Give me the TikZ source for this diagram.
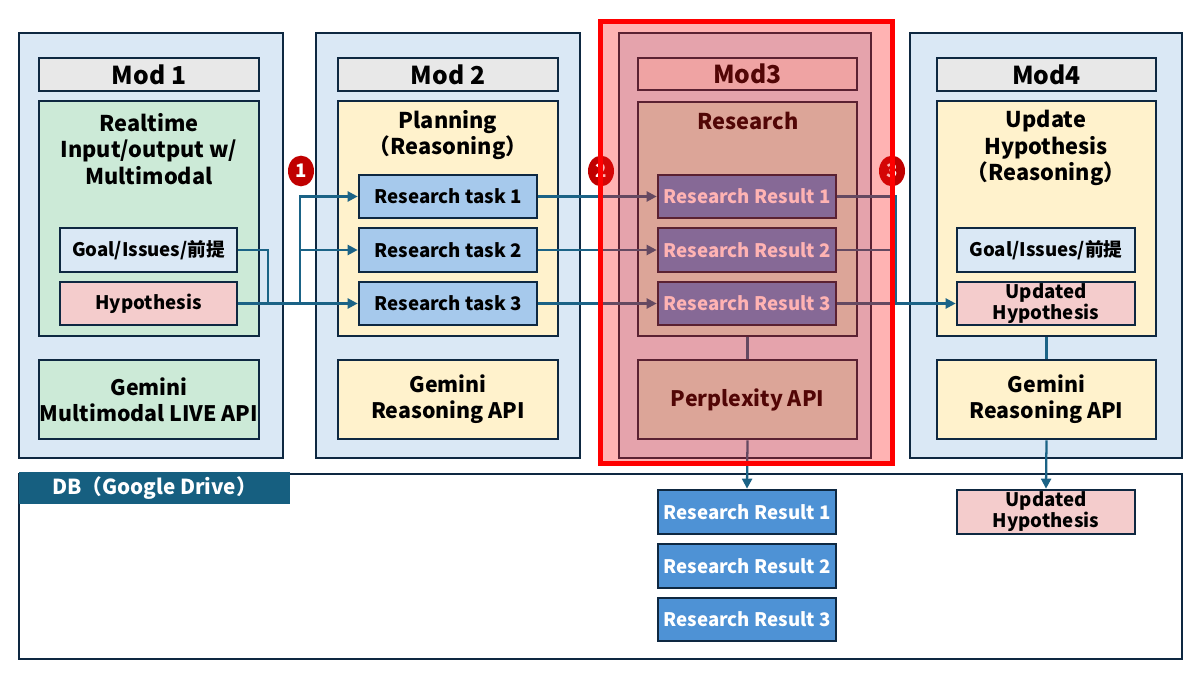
\documentclass[tikz,border=0pt]{standalone}
\usepackage{fontspec}
\setmainfont{Noto Sans CJK JP}
\usetikzlibrary{arrows.meta,shapes.geometric}
\definecolor{navy}{HTML}{0E2841}
\definecolor{outerblue}{HTML}{DAE8F5}
\definecolor{hdrgray}{HTML}{E8E8E8}
\definecolor{mgreen}{HTML}{CCEAD7}
\definecolor{myellow}{HTML}{FFF2CC}
\definecolor{taskblue}{HTML}{A6C9EC}
\definecolor{hpink}{HTML}{F4CCCC}
\definecolor{lnteal}{HTML}{1B6386}
\definecolor{dbteal}{HTML}{165F80}
\definecolor{resblue}{HTML}{4E92D5}
\definecolor{circred}{HTML}{C00000}
\definecolor{ovred}{RGB}{255,20,20}
% \bx{name}{style}{x1}{y1}{x2}{y2}{text}
\newcommand\bx[7]{\node[#2, minimum width={(#5-#3)*0.75pt}, minimum height={(#6-#4)*0.75pt}]
  (#1) at ({(#3+#5)/2},{(#4+#6)/2}) {#7};}
\begin{document}
\begin{tikzpicture}[x=0.75pt,y=-0.75pt,
  box/.style={draw=navy, line width=2pt, inner sep=0pt, align=center, text=black,
    font=\bfseries\fontsize{14}{16}\selectfont},
  modbox/.style={box, fill=outerblue},
  hdr/.style={box, fill=hdrgray, font=\bfseries\fontsize{18.5}{22}\selectfont},
  titletext/.style={align=center, text=black, inner sep=0pt, font=\bfseries\fontsize{16.3}{20}\selectfont},
  bigtext/.style={font=\bfseries\fontsize{16}{19.5}\selectfont},
  tight/.style={font=\bfseries\fontsize{14}{15.75}\selectfont},
  conn/.style={draw=lnteal, line width=1.7pt},
  arr/.style={conn, -{Triangle[length=7.5pt,width=7.5pt]}},
  badge/.style={ellipse, fill=circred, minimum width=19.5pt, minimum height=23pt, inner sep=0pt,
    text=white, font=\bfseries\fontsize{14}{16}\selectfont}
]
\useasboundingbox (0,0) rectangle (1204,681);

% ---------- Mod 1 ----------
\bx{m1}{modbox}{19}{33}{283}{458}{}
\bx{m1h}{hdr}{39}{58}{259}{91}{Mod 1}
\bx{m1b}{box, fill=mgreen}{39}{101}{259}{336}{}
\node[titletext] (m1t) at (149,149) {Realtime\\Input/output w/\\Multimodal};
\bx{goal1}{box, fill=outerblue}{60}{228}{237}{272}{Goal/Issues/前提}
\bx{hyp1}{box, fill=hpink}{60}{282}{237}{325}{Hypothesis}
\bx{gem1}{box, bigtext, fill=mgreen}{39}{360}{259}{439}{Gemini\\Multimodal LIVE API}

% ---------- Mod 2 ----------
\bx{m2}{modbox}{316}{33}{580}{458}{}
\bx{m2h}{hdr}{338}{58}{558}{91}{Mod 2}
\bx{m2b}{box, fill=myellow}{338}{101}{558}{336}{}
\node[titletext] (m2t) at (448,135) {Planning\\（Reasoning）};
\bx{t1}{box, fill=taskblue}{359}{175}{537}{218}{Research task 1}
\bx{t2}{box, fill=taskblue}{359}{228}{537}{272}{Research task 2}
\bx{t3}{box, fill=taskblue}{359}{282}{537}{325}{Research task 3}
\bx{gem2}{box, bigtext, fill=myellow}{338}{360}{558}{439}{Gemini\\Reasoning API}

% ---------- Mod 3 ----------
\bx{m3}{modbox}{619}{33}{871}{458}{}
\bx{m3h}{hdr}{638}{58}{857}{90}{Mod3}
\bx{res}{box, fill=mgreen}{638}{102}{857}{336}{}
\node[titletext] (m3t) at (748,121) {Research};
\bx{r1}{box, fill=resblue, text=white}{658}{175}{836}{218}{Research Result 1}
\bx{r2}{box, fill=resblue, text=white}{658}{228}{836}{272}{Research Result 2}
\bx{r3}{box, fill=resblue, text=white}{658}{282}{836}{325}{Research Result 3}
\bx{perp}{box, bigtext, fill=mgreen}{638}{360}{857}{439}{Perplexity API}

% ---------- Mod 4 ----------
\bx{m4}{modbox}{910}{33}{1182}{458}{}
\bx{m4h}{hdr}{937}{58}{1156}{91}{Mod4}
\bx{m4b}{box, fill=myellow}{937}{101}{1156}{336}{}
\node[titletext] (m4t) at (1046,148) {Update\\Hypothesis\\（Reasoning）};
\bx{goal4}{box, fill=outerblue}{957}{228}{1135}{272}{Goal/Issues/前提}
\bx{uh}{box, tight, fill=hpink}{957}{282}{1135}{325}{Updated\\Hypothesis}
\bx{gem4}{box, bigtext, fill=myellow}{937}{360}{1156}{439}{Gemini\\Reasoning API}

% ---------- DB ----------
\bx{db}{box}{19}{474}{1182}{659}{}
\bx{dbl}{fill=dbteal, inner sep=0pt, text=white, font=\bfseries\fontsize{15.5}{20}\selectfont}{19}{472}{290}{504}{DB（Google Drive）}
\bx{dr1}{box, fill=resblue, text=white}{658}{490}{836}{534}{Research Result 1}
\bx{dr2}{box, fill=resblue, text=white}{658}{544}{836}{588}{Research Result 2}
\bx{dr3}{box, fill=resblue, text=white}{658}{598}{836}{641}{Research Result 3}
\bx{dbuh}{box, tight, fill=hpink}{957}{490}{1135}{534}{Updated\\Hypothesis}

% ---------- connectors ----------
\coordinate (j1) at (268,303.5);
\coordinate (bus2) at (300,303.5);
\coordinate (bus4) at (896,303.5);
\draw[conn] (goal1.east) -| (j1);
\draw[arr] (hyp1.east) -- (t3.west);
\draw[arr] (bus2) |- (t1.west);
\draw[arr] (bus2) |- (t2.west);
\draw[arr] (t1.east) -- (r1.west);
\draw[arr] (t2.east) -- (r2.west);
\draw[arr] (t3.east) -- (r3.west);
\draw[conn] (r1.east) -| (bus4);
\draw[conn] (r2.east) -| (bus4);
\draw[arr] (r3.east) -- (uh.west);
\draw[conn] (res.south) -- (perp.north);
\draw[arr] (perp.south) -- (dr1.north);
\draw[conn] (m4b.south) -- (gem4.north);
\draw[arr] (gem4.south) -- (dbuh.north);

% ---------- badges ----------
\node[badge] (c1) at (301,171) {1};
\node[badge] (c2) at (601,171) {2};
\node[badge] (c3) at (892,171) {3};

% ---------- Mod 3 highlight ----------
\fill[ovred, opacity=0.32] (600,22) rectangle (892,463);
\draw[red, line width=3.75pt] (600,22) rectangle (892,463);
\end{tikzpicture}
\end{document}
